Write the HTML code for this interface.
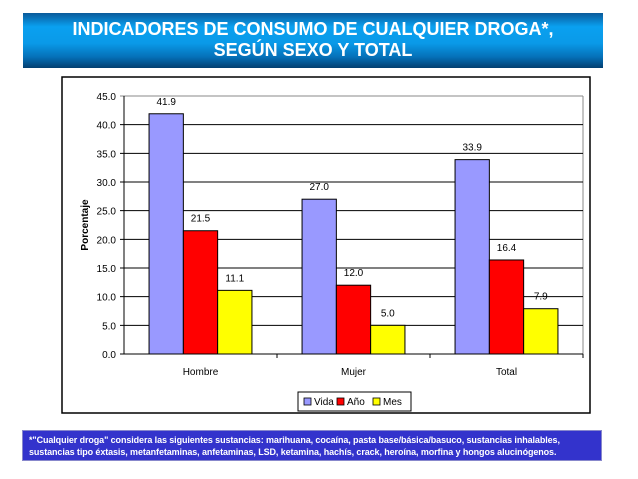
<!DOCTYPE html>
<html><head><meta charset="utf-8"><style>
body{margin:0;width:638px;height:479px;background:#fff;position:relative;font-family:"Liberation Sans",sans-serif;overflow:hidden}
#title{position:absolute;left:23px;top:13px;width:580px;height:55px;background:linear-gradient(#0a5a9a 0%,#0aa0f0 25%,#0a9ae8 55%,#0570b8 80%,#033f70 100%);color:#fff;font-weight:bold;font-size:18px;text-align:center;line-height:21px;padding-top:6px;box-sizing:border-box;white-space:nowrap}
#foot{position:absolute;left:22px;top:430px;width:580px;height:31px;background:#3333cc;color:#fff;font-weight:bold;font-size:9px;line-height:12px;padding:3px 0 0 6px;box-sizing:border-box;border:1px solid #8888cc;letter-spacing:-0.1px}
</style></head><body>
<div id="title">INDICADORES DE CONSUMO DE CUALQUIER DROGA*,<br>SEGÚN SEXO Y TOTAL</div>
<svg id="chart" width="638" height="479" style="position:absolute;left:0;top:0"></svg>
<div id="foot">*"Cualquier droga" considera las siguientes sustancias: marihuana, cocaína, pasta base/básica/basuco, sustancias inhalables,<br>sustancias tipo éxtasis, metanfetaminas, anfetaminas, LSD, ketamina, hachís, crack, heroína, morfina y hongos alucinógenos.</div>
<script>
const categories=["Hombre","Mujer","Total"];
const seriesNames=["Vida","Año","Mes"];
const vida=[41.9,27.0,33.9];
const anio=[21.5,12.0,16.4];
const mes=[11.1,5.0,7.9];
const yTicks=[0,5,10,15,20,25,30,35,40,45];
const colors=["#9999ff","#ff0000","#ffff00"];
const NS="http://www.w3.org/2000/svg";
const svg=document.getElementById('chart');
function mk(t,a,p){const e=document.createElementNS(NS,t);for(const k in a)e.setAttribute(k,a[k]);(p||svg).appendChild(e);return e;}
const L=124,R=583,T=96,B=354,yMax=45;
const y=v=>B-(v/yMax)*(B-T);
const cw=(R-L)/categories.length;
const x=i=>L+i*cw;
const box=mk('rect',{x:62,y:77,width:528,height:336,fill:'#fff',stroke:'#000','stroke-width':1.5});

mk('line',{x1:R,y1:T,x2:R,y2:B,stroke:'#888'});
yTicks.forEach(v=>{
 const g=mk('line',{x1:L-4,y1:y(v),x2:R,y2:y(v),stroke:v==45?'#888':'#000','stroke-width':1});
 
 const t=mk('text',{x:L-8,y:y(v)+4,'text-anchor':'end','font-size':10,fill:'#000'});t.textContent=v.toFixed(1);
 
});
mk('line',{x1:L,y1:T,x2:L,y2:B,stroke:'#000'});
const all=[vida,anio,mes];
const bw=34.3;
categories.forEach((c,i)=>{
 const g0=x(i)+cw/2-bw*1.5;
 all.forEach((s,j)=>{
  const r=mk('rect',{x:g0+j*bw,y:y(s[i]),width:bw,height:B-y(s[i]),fill:colors[j],stroke:'#000','stroke-width':1});
  
  const t=mk('text',{x:g0+j*bw+bw/2,y:y(s[i])-9,'text-anchor':'middle','font-size':10});t.textContent=s[i].toFixed(1);
  
 });
 if(i>0)mk('line',{x1:x(i),y1:B,x2:x(i),y2:B+4,stroke:'#000'});
 const t=mk('text',{x:x(i)+cw/2,y:B+21,'text-anchor':'middle','font-size':10});t.textContent=c;
 
});
mk('line',{x1:R,y1:B,x2:R,y2:B+4,stroke:'#000'});
const yt=mk('text',{transform:'translate(88,225) rotate(-90)','text-anchor':'middle','font-size':10,'font-weight':'bold'});yt.textContent='Porcentaje';

const lg=mk('rect',{x:298,y:392,width:113,height:19,fill:'#fff',stroke:'#000'});

const lx=[304,337,373];
seriesNames.forEach((n,j)=>{
 const s=mk('rect',{x:lx[j],y:398,width:7,height:7,fill:colors[j],stroke:'#000','stroke-width':0.8});
 
 const t=mk('text',{x:lx[j]+10,y:405,'font-size':10});t.textContent=n;
 
});
</script>
</body></html>
